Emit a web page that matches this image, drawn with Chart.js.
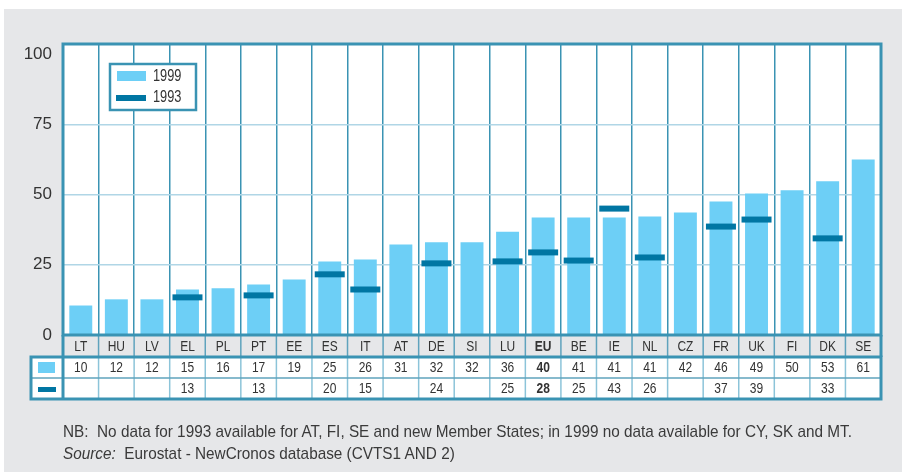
<!DOCTYPE html>
<html>
<head>
<meta charset="utf-8">
<script src="https://cdn.jsdelivr.net/npm/chart.js@4"></script>
<style>
    body { margin: 0; background: #fff; }
    #panel { position: absolute; left: 4px; top: 9px; width: 898px; height: 463px; background: #e6e7e9; }
    #chart { position: absolute; left: 0; top: 0; }
    #notes {
        position: absolute; left: 63px; top: 421px;
        font: 17px "Liberation Sans", Arial, sans-serif;
        line-height: 22px; color: #3a3a3a; white-space: nowrap;
        transform-origin: 0 0;
    }
    #notes span { display: inline-block; }
</style>
</head>
<body>
<div id="panel"></div>
<canvas id="chart" width="902" height="472"></canvas>
<div id="notes">
    <span id="nb">NB:&nbsp; No data for 1993 available for AT, FI, SE and new Member States; in 1999 no data available for CY, SK and MT.</span><br>
    <span><i>Source:</i>&nbsp; Eurostat - NewCronos database (CVTS1 AND 2)</span>
</div>
<script>
const categories = ["LT", "HU", "LV", "EL", "PL", "PT", "EE", "ES", "IT", "AT", "DE", "SI",
    "LU", "EU", "BE", "IE", "NL", "CZ", "FR", "UK", "FI", "DK", "SE"];

// bar heights / marker levels as drawn in the picture
const bars1999 = [10.5, 12.7, 12.7, 16.2, 16.6, 18.0, 19.8, 26.2, 26.9, 32.2, 33.0, 33.0,
    36.8, 41.8, 41.8, 41.8, 42.2, 43.6, 47.5, 50.4, 51.5, 54.7, 62.5];
const marks1993 = [null, null, null, 13.4, null, 14.1, null, 21.6, 16.2, null, 25.5, null,
    26.2, 29.4, 26.5, 45.0, 27.6, null, 38.6, 41.1, null, 34.4, null];

// numbers printed in the table under the chart
const table1999 = ["10", "12", "12", "15", "16", "17", "19", "25", "26", "31", "32", "32",
    "36", "40", "41", "41", "41", "42", "46", "49", "50", "53", "61"];
const table1993 = ["", "", "", "13", "", "13", "", "20", "15", "", "24", "",
    "25", "28", "25", "43", "26", "", "37", "39", "", "33", ""];

const yTicks = [0, 25, 50, 75, 100];
const seriesNames = ["1999", "1993"];

const LIGHT = "#6dcff6";
const DARK = "#0076a3";
const FRAME = "#3a93b3";
const SANS = '"Liberation Sans", Arial, sans-serif';
const SQUEEZE = 0.8; // condensed look

// squeeze the footnote to the width it has in the original
const notes = document.getElementById("notes");
const nbWidth = document.getElementById("nb").getBoundingClientRect().width;
notes.style.transform = `scaleX(${789 / nbWidth})`;

function narrowText(ctx, text, x, y, font) {
    ctx.save();
    ctx.font = font;
    ctx.translate(x, y);
    ctx.scale(SQUEEZE, 1);
    ctx.fillText(text, 0, 0);
    ctx.restore();
}

const tablePlugin = {
    id: "tablePlugin",
    beforeDraw(chart) {
        const { ctx, chartArea: a } = chart;
        ctx.save();
        ctx.fillStyle = "#fff";
        ctx.fillRect(a.left, a.top, a.right - a.left, a.bottom - a.top);
        ctx.fillRect(31, 357, a.right - 31, 42);
        ctx.restore();
    },
    afterDraw(chart) {
        const { ctx, chartArea: a } = chart;
        const x = chart.scales.x;
        const half = (a.right - a.left) / categories.length / 2;
        const rowTop = 357, rowMid = 378, rowBot = 399;

        ctx.save();
        // separators in category row and table rows
        categories.forEach((c, i) => {
            const bx = x.getPixelForValue(i) + half;
            ctx.lineWidth = 1.5;
            ctx.strokeStyle = "#5fa3bd";
            ctx.beginPath(); ctx.moveTo(bx, a.bottom); ctx.lineTo(bx, rowTop); ctx.stroke();
            ctx.strokeStyle = "#8cc4d9";
            ctx.beginPath(); ctx.moveTo(bx, rowTop); ctx.lineTo(bx, rowBot); ctx.stroke();
        });
        ctx.strokeStyle = "#5fa3bd";
        ctx.lineWidth = 1.5;
        ctx.beginPath(); ctx.moveTo(31, rowMid); ctx.lineTo(a.right, rowMid); ctx.stroke();

        // frames
        ctx.strokeStyle = FRAME;
        ctx.lineWidth = 3;
        ctx.strokeRect(a.left, a.top, a.right - a.left, a.bottom - a.top);
        ctx.strokeRect(31, rowTop, a.right - 31, rowBot - rowTop);
        ctx.beginPath();
        ctx.moveTo(a.left, a.bottom); ctx.lineTo(a.left, rowBot);
        ctx.moveTo(a.right, a.bottom); ctx.lineTo(a.right, rowTop);
        ctx.stroke();

        // row icons
        ctx.fillStyle = LIGHT;
        ctx.fillRect(38, 362, 17, 11);
        ctx.fillStyle = DARK;
        ctx.fillRect(38, 387, 18, 5);

        // category labels and table numbers
        ctx.fillStyle = "#333";
        ctx.textAlign = "center";
        ctx.textBaseline = "middle";
        categories.forEach((c, i) => {
            const cx = x.getPixelForValue(i);
            const font = (c === "EU" ? "bold " : "") + "15px " + SANS;
            narrowText(ctx, c, cx, 347, font);
            narrowText(ctx, table1999[i], cx, 368, font);
            narrowText(ctx, table1993[i], cx, 389, font);
        });

        // legend box
        ctx.fillStyle = "#fff";
        ctx.fillRect(110, 64, 86, 46);
        ctx.lineWidth = 2.5;
        ctx.strokeStyle = FRAME;
        ctx.strokeRect(110, 64, 86, 46);
        ctx.fillStyle = LIGHT;
        ctx.fillRect(117, 71, 29, 10);
        ctx.fillStyle = DARK;
        ctx.fillRect(116, 95, 30, 6);
        ctx.fillStyle = "#333";
        ctx.textAlign = "left";
        narrowText(ctx, seriesNames[0], 153, 77, "16px " + SANS);
        narrowText(ctx, seriesNames[1], 153, 98, "16px " + SANS);
        ctx.restore();
    }
};

new Chart(document.getElementById("chart"), {
    type: "bar",
    data: {
        labels: categories,
        datasets: [
            {
                type: "line",
                label: seriesNames[1],
                data: marks1993,
                showLine: false,
                pointStyle: "line",
                pointRadius: 15,
                pointHoverRadius: 15,
                pointBorderWidth: 6,
                pointHoverBorderWidth: 6,
                borderColor: DARK,
                backgroundColor: DARK,
                order: 0
            },
            {
                label: seriesNames[0],
                data: bars1999,
                backgroundColor: LIGHT,
                barPercentage: 0.645,
                categoryPercentage: 1,
                order: 1
            }
        ]
    },
    options: {
        responsive: false,
        animation: false,
        layout: { padding: { top: 44, right: 18, bottom: 115, left: 0 } },
        plugins: {
            legend: { display: false },
            tooltip: { enabled: false }
        },
        scales: {
            x: {
                grid: { color: FRAME, lineWidth: 1.5, drawTicks: false },
                border: { display: false },
                ticks: { display: false },
                afterFit: s => { s.height = 22; }
            },
            y: {
                min: 0,
                max: 103.6,
                afterBuildTicks: s => { s.ticks = yTicks.map(v => ({ value: v })); },
                grid: {
                    drawTicks: false,
                    lineWidth: 1.5,
                    color: ctx => (ctx.tick && ctx.tick.value > 0 && ctx.tick.value < 100) ? "#b0d6e6" : "rgba(0,0,0,0)"
                },
                border: { display: false },
                ticks: {
                    padding: 11,
                    color: "#333",
                    font: { family: SANS, size: 17 }
                },
                afterFit: s => { s.width = 63; }
            }
        }
    },
    plugins: [tablePlugin]
});
</script>
</body>
</html>
